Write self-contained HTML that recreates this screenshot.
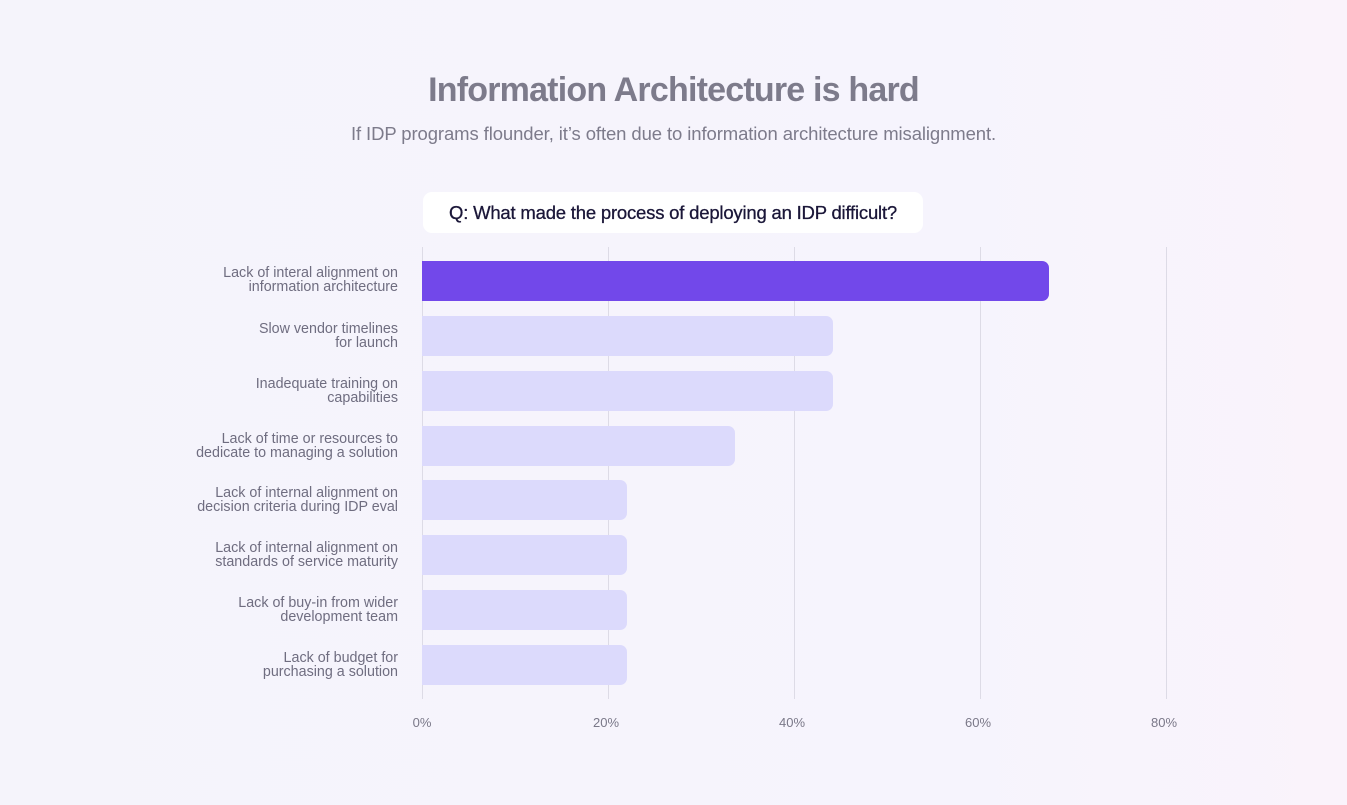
<!DOCTYPE html>
<html><head><style>
html,body{margin:0;padding:0}
body{width:1347px;height:805px;background:linear-gradient(90deg,#f5f4fb 0%,#f6f4fd 70%,#faf3fb 100%);font-family:"Liberation Sans",sans-serif;position:relative;overflow:hidden}
.t{position:absolute;left:0;width:1347px;text-align:center;color:#7d7b8b}
.grid{position:absolute;top:247px;height:452px;width:1px;background:#dddbe6}
.bar{position:absolute;left:422px;height:40px;background:#dcdafc;border-radius:0 7px 7px 0}
.lab{position:absolute;right:949px;width:280px;text-align:right;font-size:14.3px;line-height:14px;color:#6f6d80}
.tick{position:absolute;top:715px;font-size:13px;color:#7a7888;width:60px;text-align:center}
</style></head><body>
<div class="t" style="top:71px;font-size:34px;font-weight:bold;letter-spacing:-0.8px">Information Architecture is hard</div>
<div class="t" style="top:123px;font-size:18.5px;letter-spacing:-0.1px">If IDP programs flounder, it’s often due to information architecture misalignment.</div>
<div style="position:absolute;left:423px;top:192px;width:500px;height:41px;background:#fff;border-radius:9px;text-align:center;line-height:41px;font-size:18.5px;color:#1a1638;letter-spacing:-0.2px;-webkit-text-stroke:0.3px #1a1638">Q: What made the process of deploying an IDP difficult?</div>
<div class="grid" style="left:422px"></div><div class="grid" style="left:608px"></div><div class="grid" style="left:794px"></div><div class="grid" style="left:980px"></div><div class="grid" style="left:1166px"></div>
<div class="bar" style="top:261px;width:627px;background:#7248ea"></div>
<div class="bar" style="top:316px;width:411px"></div>
<div class="bar" style="top:371px;width:411px"></div>
<div class="bar" style="top:426px;width:313px"></div>
<div class="bar" style="top:480px;width:205px"></div>
<div class="bar" style="top:535px;width:205px"></div>
<div class="bar" style="top:590px;width:205px"></div>
<div class="bar" style="top:645px;width:205px"></div>
<div class="lab" style="top:266px">Lack of interal alignment on<br>information architecture</div>
<div class="lab" style="top:322px">Slow vendor timelines<br>for launch</div>
<div class="lab" style="top:377px">Inadequate training on<br>capabilities</div>
<div class="lab" style="top:432px">Lack of time or resources to<br>dedicate to managing a solution</div>
<div class="lab" style="top:486px">Lack of internal alignment on<br>decision criteria during IDP eval</div>
<div class="lab" style="top:541px">Lack of internal alignment on<br>standards of service maturity</div>
<div class="lab" style="top:596px">Lack of buy-in from wider<br>development team</div>
<div class="lab" style="top:651px">Lack of budget for<br>purchasing a solution</div>
<div class="tick" style="left:392px">0%</div>
<div class="tick" style="left:576px">20%</div>
<div class="tick" style="left:762px">40%</div>
<div class="tick" style="left:948px">60%</div>
<div class="tick" style="left:1134px">80%</div>
</body></html>
